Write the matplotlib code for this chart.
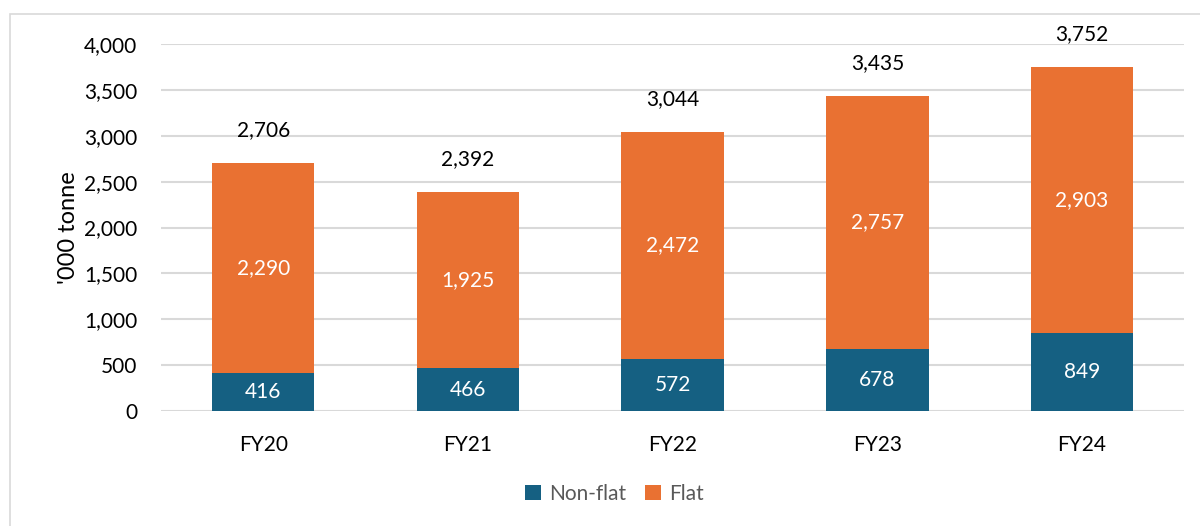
import matplotlib.pyplot as plt
from matplotlib.patches import Rectangle
import numpy as np

plt.rcParams['font.family'] = ['Lato', 'DejaVu Sans']

years = ['FY20', 'FY21', 'FY22', 'FY23', 'FY24']
non_flat = [416, 466, 572, 678, 849]
flat = [2290, 1925, 2472, 2757, 2903]
totals = [2706, 2392, 3044, 3435, 3752]

blue = '#156082'
orange = '#E97132'

fig = plt.figure(figsize=(12, 5.26), dpi=100)
ax = fig.add_axes([0.134, 0.2186, 0.853, 0.6977])

# outer chart frame
fig.patches.append(Rectangle((10 / 1200, -0.02), 1.0, 1 - 14 / 526 + 0.02,
                             transform=fig.transFigure, fill=False,
                             edgecolor='#D9D9D9', linewidth=1.2))

x = np.arange(len(years))
b1 = ax.bar(x, non_flat, width=0.5, color=blue, label='Non-flat', zorder=3)
b2 = ax.bar(x, flat, width=0.5, bottom=non_flat, color=orange, label='Flat', zorder=3)

for i in range(len(years)):
    ax.text(x[i], non_flat[i] / 2, f'{non_flat[i]:,}', ha='center', va='center',
            color='white', fontsize=15)
    ax.text(x[i], non_flat[i] + flat[i] / 2, f'{flat[i]:,}', ha='center', va='center',
            color='white', fontsize=15)
    ax.annotate(f'{totals[i]:,}', (x[i], totals[i]), xytext=(0, 23.5),
                textcoords='offset points', ha='center', va='center',
                fontsize=15, color='black', annotation_clip=False)

ax.set_xlim(-0.5, len(years) - 0.5)
ax.set_ylim(0, 4000)
ax.set_yticks(range(0, 4001, 500))
ax.yaxis.set_major_formatter(plt.FuncFormatter(lambda v, p: f'{int(v):,}'))
ax.set_xticks(x)
ax.set_xticklabels(years)
ax.tick_params(axis='both', length=0, labelsize=15, colors='black')
ax.tick_params(axis='x', pad=17)
ax.tick_params(axis='y', pad=17)
ax.grid(axis='y', color='#D9D9D9', linewidth=1.5, zorder=0)
for s in ax.spines.values():
    s.set_visible(False)

ax.set_ylabel("'000 tonne", fontsize=17)
ax.yaxis.set_label_coords(-0.08, 0.5)

leg = fig.legend(handles=[b1, b2], loc='center', bbox_to_anchor=(0.512, 1 - 494 / 526),
                 ncol=2, frameon=False, fontsize=15, handlelength=0.75,
                 handleheight=0.75, handletextpad=0.4, columnspacing=0.9)
for t in leg.get_texts():
    t.set_color('#595959')

fig.savefig('out.png', dpi=100)
